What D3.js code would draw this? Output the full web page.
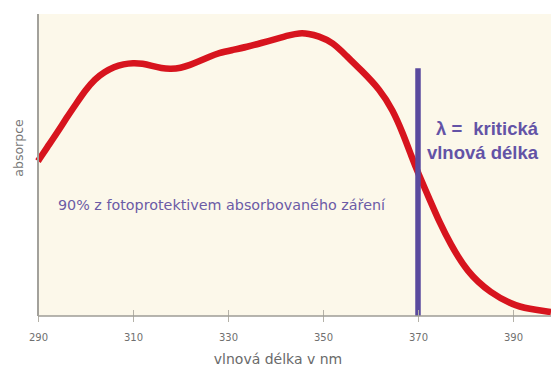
<!DOCTYPE html>
<html>
<head>
<meta charset="utf-8">
<script src="https://cdn.jsdelivr.net/npm/d3@7"></script>
<style>
  html, body { margin: 0; padding: 0; background: #ffffff; }
  svg { display: block; }
</style>
</head>
<body>
<svg id="chart" width="551" height="367"></svg>
<script>
// ---- data ----
const wavelengths = [290, 292, 294, 296, 298, 300, 302, 304, 306, 308, 310, 312, 314, 316, 318, 320, 322, 324, 326, 328, 331, 334, 337, 340, 343, 345, 347, 349, 352, 355, 358, 362, 364.7, 366.8, 368.7, 370, 372.5, 374.6, 376.7, 380.3, 385.2, 390.8, 395, 398];
const absorbance  = [51.3, 56, 60.6, 65.6, 70.2, 74.8, 78.5, 80.8, 82.5, 83.4, 83.8, 83.6, 82.8, 82, 81.8, 82.1, 83.1, 84.4, 85.8, 87.1, 88.1, 89.1, 90.4, 91.7, 93, 93.7, 93.5, 92.7, 90.7, 86.0, 81.5, 75.0, 68.2, 60.6, 52.6, 47.4, 38.4, 30.8, 24.2, 14.6, 7.6, 3.0, 2.0, 1.3];
const xTicks = [290, 310, 330, 350, 370, 390];
const criticalWavelength = 370;
const criticalTop = 82;
const xTitle = "vlnová délka v nm";
const yTitle = "absorpce";
const areaNote = "90% z fotoprotektivem absorbovaného záření";
const criticalLabelA = ["λ =", "kritická"];
const criticalLabelB = "vlnová délka";

// ---- layout ----
const svg = d3.select("#chart");
const mLeft = 38, mRight = 551, mTop = 14, mBottom = 316;
const x = d3.scaleLinear().domain([290, 290 + (mRight - mLeft) / 4.75]).range([mLeft, mRight]);
const y = d3.scaleLinear().domain([0, 100]).range([mBottom, mTop]);

// plot background
svg.append("rect").attr("x", mLeft).attr("y", mTop)
  .attr("width", mRight - mLeft).attr("height", mBottom - mTop)
  .attr("fill", "#fcf8ea");

// note text
svg.append("text").attr("x", 58).attr("y", 210)
  .attr("font-family", "DejaVu Sans, sans-serif")
  .attr("font-size", 13.5).attr("fill", "#6b5ba6")
  .attr("textLength", 327).attr("lengthAdjust", "spacingAndGlyphs")
  .text(areaNote);

// critical label
const labFont = "Liberation Sans, Arial, sans-serif";
svg.append("text").attr("x", 436).attr("y", 135)
  .attr("font-family", labFont).attr("font-weight", "bold")
  .attr("font-size", 18.5).attr("fill", "#6353a6").text(criticalLabelA[0]);
svg.append("text").attr("x", 538).attr("y", 135).attr("text-anchor", "end")
  .attr("font-family", labFont).attr("font-weight", "bold")
  .attr("font-size", 18.5).attr("fill", "#6353a6").text(criticalLabelA[1]);
svg.append("text").attr("x", 538).attr("y", 159).attr("text-anchor", "end")
  .attr("font-family", labFont).attr("font-weight", "bold")
  .attr("font-size", 18.5).attr("fill", "#6353a6").text(criticalLabelB);

// curve
const pts = wavelengths.map((w, i) => [w, absorbance[i]]);
const line = d3.line().x(d => x(d[0])).y(d => y(d[1])).curve(d3.curveBasis);
svg.append("path").datum(pts).attr("d", line)
  .attr("fill", "none").attr("stroke", "#d7141e").attr("stroke-width", 6.5)
  .attr("stroke-linecap", "butt").attr("stroke-linejoin", "round");

// critical wavelength line
svg.append("line")
  .attr("x1", x(criticalWavelength)).attr("x2", x(criticalWavelength))
  .attr("y1", y(criticalTop)).attr("y2", mBottom)
  .attr("stroke", "#5a4a9e").attr("stroke-width", 5.5);

// x axis
const xAxis = d3.axisBottom(x).tickValues(xTicks).tickSize(0).tickPadding(0);
const gx = svg.append("g").attr("transform", `translate(0,${mBottom})`).call(xAxis);
gx.select(".domain").remove();
gx.selectAll(".tick line").remove();
gx.selectAll(".tick").append("line").attr("y1", -6).attr("y2", 6)
  .attr("stroke", "#b5b2a8").attr("stroke-width", 1);
gx.selectAll(".tick text").attr("y", 25).attr("dy", 0)
  .attr("font-family", "DejaVu Sans, sans-serif")
  .attr("font-size", 10).attr("fill", "#707070");
svg.append("line").attr("x1", mLeft).attr("x2", mRight).attr("y1", mBottom).attr("y2", mBottom)
  .attr("stroke", "#9e9c96").attr("stroke-width", 1.5);

// y axis line
svg.append("line").attr("x1", mLeft).attr("x2", mLeft).attr("y1", mTop).attr("y2", mBottom)
  .attr("stroke", "#a3a19b").attr("stroke-width", 2);

// titles
svg.append("text").attr("x", 278).attr("y", 364).attr("text-anchor", "middle")
  .attr("font-family", "DejaVu Sans, sans-serif")
  .attr("font-size", 14).attr("fill", "#6a6a6a").text(xTitle);
svg.append("text").attr("transform", "translate(23,148) rotate(-90)")
  .attr("text-anchor", "middle")
  .attr("font-family", "DejaVu Sans, sans-serif")
  .attr("font-size", 12.5).attr("fill", "#777").text(yTitle);
</script>
</body>
</html>
